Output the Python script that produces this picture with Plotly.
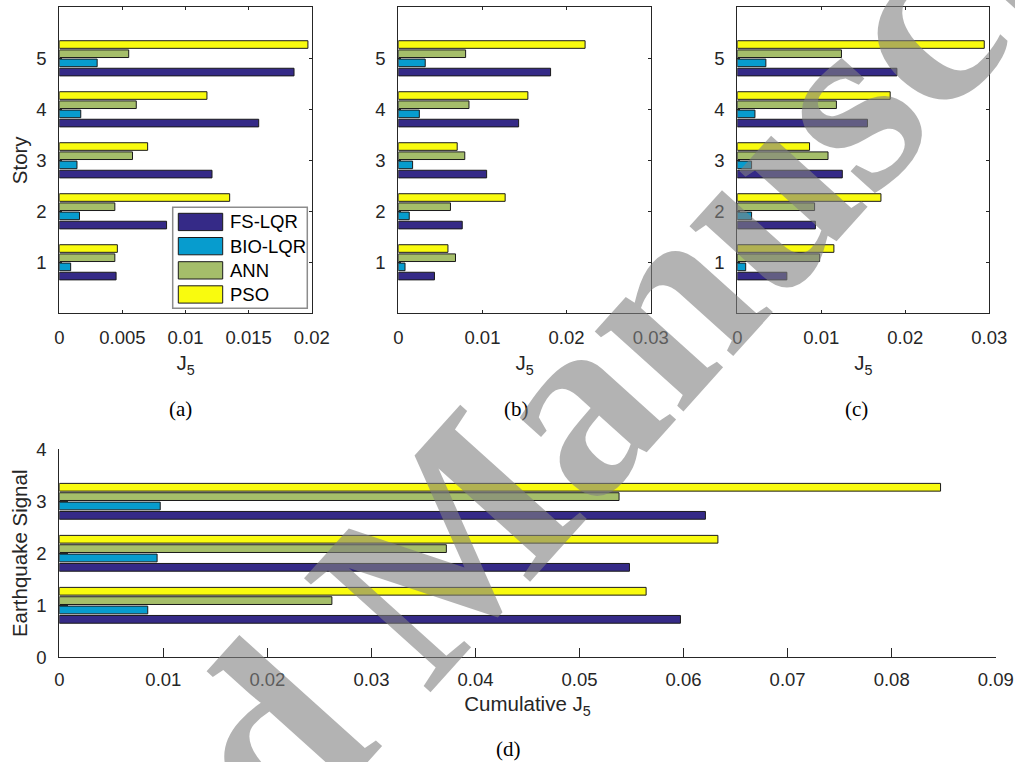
import plotly.graph_objects as go

# ---------------- data ----------------
series_names = ["FS-LQR", "BIO-LQR", "ANN", "PSO"]
series_colors = ["#352a87", "#079cce", "#a5be6a", "#f9fb0e"]

stories = [1, 2, 3, 4, 5]
story_ticks = ["1", "2", "3", "4", "5"]

a_fs = [0.0045, 0.0085, 0.0121, 0.0158, 0.0186]
a_bio = [0.0009, 0.0016, 0.0014, 0.0017, 0.0030]
a_ann = [0.0044, 0.0044, 0.0058, 0.0061, 0.0055]
a_pso = [0.0046, 0.0135, 0.0070, 0.0117, 0.0197]

b_fs = [0.0043, 0.0076, 0.0105, 0.0143, 0.0181]
b_bio = [0.0008, 0.0013, 0.0017, 0.0025, 0.0032]
b_ann = [0.0068, 0.0062, 0.0079, 0.0084, 0.0080]
b_pso = [0.0059, 0.0127, 0.0070, 0.0154, 0.0222]

c_fs = [0.0059, 0.0093, 0.0125, 0.0155, 0.0190]
c_bio = [0.0010, 0.0017, 0.0017, 0.0021, 0.0034]
c_ann = [0.0098, 0.0092, 0.0108, 0.0118, 0.0124]
c_pso = [0.0115, 0.0171, 0.0086, 0.0182, 0.0294]

signals = [1, 2, 3]
d_fs = [0.0597, 0.0548, 0.0621]
d_bio = [0.0085, 0.0094, 0.0097]
d_ann = [0.0262, 0.0372, 0.0538]
d_pso = [0.0564, 0.0633, 0.0847]

a_xticks = [0, 0.005, 0.01, 0.015, 0.02]
a_xlabels = ["0", "0.005", "0.01", "0.015", "0.02"]
bc_xticks = [0, 0.01, 0.02, 0.03]
bc_xlabels = ["0", "0.01", "0.02", "0.03"]
d_xticks = [0, 0.01, 0.02, 0.03, 0.04, 0.05, 0.06, 0.07, 0.08, 0.09]
d_xlabels = ["0", "0.01", "0.02", "0.03", "0.04", "0.05", "0.06", "0.07", "0.08", "0.09"]
d_yticks = [0, 1, 2, 3, 4]

watermark_text = "Accepted Manuscript"

# ---------------- layout helpers ----------------
W, H = 1015, 762


def px(x):
    return x / W


def py(y):
    return 1 - y / H


AX = "#262626"
FONT = "Arial, Liberation Sans, Helvetica, sans-serif"
TICK_SIZE = 18.5
LABEL_SIZE = 20.5

fig = go.Figure()

panels = [
    ("x", "y", [a_fs, a_bio, a_ann, a_pso], stories),
    ("x2", "y2", [b_fs, b_bio, b_ann, b_pso], stories),
    ("x3", "y3", [c_fs, c_bio, c_ann, c_pso], stories),
    ("x4", "y4", [d_fs, d_bio, d_ann, d_pso], signals),
]

for xa, ya, vals, cats in panels:
    for name, color, v in zip(series_names, series_colors, vals):
        fig.add_trace(go.Bar(
            x=v, y=cats, orientation="h", name=name,
            marker=dict(color=color, line=dict(color="#1a1a1a", width=1)),
            xaxis=xa, yaxis=ya, showlegend=False, hoverinfo="x+name",
        ))

box_common = dict(showline=True, mirror="ticks", linecolor=AX, linewidth=1,
                  ticks="inside", ticklen=3, tickcolor=AX, tickwidth=1,
                  showgrid=False, zeroline=False, automargin=False,
                  tickfont=dict(family=FONT, size=TICK_SIZE, color=AX))

ya_dom = [py(313.3), py(7.3)]


def xtitle(t):
    return dict(text=t, standoff=9, font=dict(family=FONT, size=LABEL_SIZE, color=AX))


fig.update_layout(
    width=W, height=H,
    margin=dict(l=0, r=0, t=0, b=0, autoexpand=False),
    paper_bgcolor="white", plot_bgcolor="white",
    barmode="group", bargap=0.28, bargroupgap=0.17,
    showlegend=False,
    xaxis=dict(domain=[px(59.3), px(311.7)], range=[0, 0.02], tickvals=a_xticks,
               ticktext=a_xlabels, anchor="y", ticklabelstandoff=7,
               title=xtitle("J<sub>5</sub>"), **box_common),
    yaxis=dict(domain=ya_dom, range=[0, 6], tickvals=stories, ticktext=story_ticks,
               anchor="x", ticklabelstandoff=8,
               title=dict(text="Story", standoff=3,
                          font=dict(family=FONT, size=LABEL_SIZE, color=AX)),
               **box_common),
    xaxis2=dict(domain=[px(398.3), px(650.7)], range=[0, 0.03], tickvals=bc_xticks,
                ticktext=bc_xlabels, anchor="y2", ticklabelstandoff=7,
                title=xtitle("J<sub>5</sub>"), **box_common),
    yaxis2=dict(domain=ya_dom, range=[0, 6], tickvals=stories, ticktext=story_ticks,
                anchor="x2", ticklabelstandoff=8, **box_common),
    xaxis3=dict(domain=[px(737.3), px(989.3)], range=[0, 0.03], tickvals=bc_xticks,
                ticktext=bc_xlabels, anchor="y3", ticklabelstandoff=7,
                title=xtitle("J<sub>5</sub>"), **box_common),
    yaxis3=dict(domain=ya_dom, range=[0, 6], tickvals=stories, ticktext=story_ticks,
                anchor="x3", ticklabelstandoff=8, **box_common),
    xaxis4=dict(domain=[px(59.3), px(995.7)], range=[0, 0.09], tickvals=d_xticks,
                ticktext=d_xlabels, anchor="y4", showline=True, mirror=False,
                linecolor=AX, linewidth=1, ticks="inside", ticklen=9, tickcolor=AX,
                showgrid=False, zeroline=False, ticklabelstandoff=5, automargin=False,
                tickfont=dict(family=FONT, size=TICK_SIZE, color=AX),
                title=dict(text="Cumulative J<sub>5</sub>", standoff=8,
                           font=dict(family=FONT, size=LABEL_SIZE, color=AX))),
    yaxis4=dict(domain=[py(657.3), py(449.3)], range=[0, 4], tickvals=d_yticks,
                anchor="x4", showline=True, mirror=False,
                linecolor=AX, linewidth=1, ticks="inside", ticklen=9, tickcolor=AX,
                showgrid=False, zeroline=False, ticklabelstandoff=8, automargin=False,
                tickfont=dict(family=FONT, size=TICK_SIZE, color=AX),
                title=dict(text="Earthquake Signal", standoff=3,
                           font=dict(family=FONT, size=LABEL_SIZE, color=AX))),
)

# ---------------- manual legend in panel (a) ----------------
shapes = [dict(type="rect", xref="paper", yref="paper",
               x0=px(172.7), x1=px(307.3), y0=py(308.3), y1=py(207.3),
               line=dict(color="#8c8c8c", width=1.5), fillcolor="white", layer="above")]
annotations = []
row_tops = [213.3, 237.5, 261.7, 285.8]
for name, color, top in zip(series_names, series_colors, row_tops):
    shapes.append(dict(type="rect", xref="paper", yref="paper",
                       x0=px(178.3), x1=px(222.7), y0=py(top + 17.3), y1=py(top),
                       line=dict(color="#1a1a1a", width=1), fillcolor=color, layer="above"))
    annotations.append(dict(text=name, xref="paper", yref="paper",
                            x=px(228), y=py(top + 8.7), xanchor="left", yanchor="middle",
                            showarrow=False,
                            font=dict(family=FONT, size=TICK_SIZE, color="black")))

# ---------------- panel captions ----------------
SERIF = "Times New Roman, Liberation Serif, serif"
for lab, cx, cy in [("(a)", 180, 409), ("(b)", 516, 409), ("(c)", 856, 409), ("(d)", 508, 749)]:
    annotations.append(dict(text=lab, xref="paper", yref="paper", x=px(cx), y=py(cy),
                            xanchor="center", yanchor="middle", showarrow=False,
                            font=dict(family=SERIF, size=21, color="black")))

# ---------------- watermark ----------------
annotations.append(dict(text=watermark_text, xref="paper", yref="paper",
                        x=px(433), y=py(558), xanchor="center", yanchor="middle",
                        textangle=-48, showarrow=False,
                        font=dict(family=SERIF, size=260, color="rgba(128,128,128,0.6)",
                                  weight="bold")))

fig.update_layout(shapes=shapes, annotations=annotations)

fig.write_html("out.html", config={"displayModeBar": False},
               post_script="document.body.style.margin='0px';")
